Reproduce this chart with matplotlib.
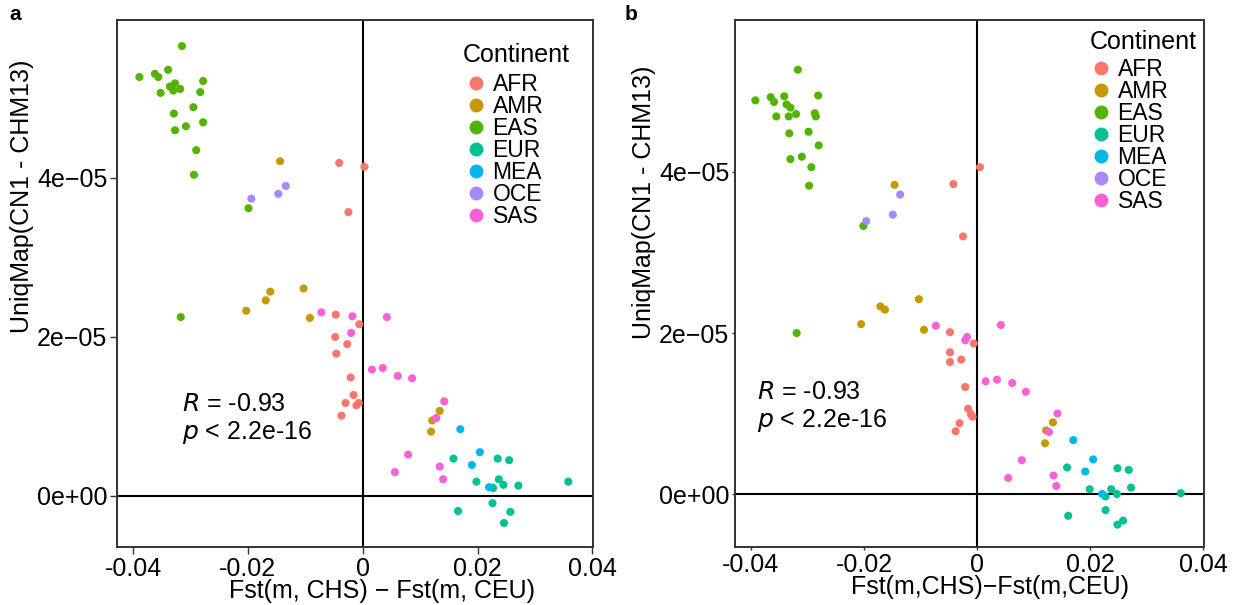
import numpy as np
import matplotlib
matplotlib.use("Agg")
import matplotlib.pyplot as plt
from matplotlib.lines import Line2D

plt.rcParams['font.family'] = ['Liberation Sans', 'DejaVu Sans']

continents = ["AFR", "AMR", "EAS", "EUR", "MEA", "OCE", "SAS"]
colors = ["#F8766D", "#C49A00", "#53B400", "#00C094", "#00B6EB", "#A58AFF", "#FB61D7"]

# panel a : (Fst diff, UniqMap in units of 1e-5)
afr_a = [(-0.0041, 4.19), (0.0003, 4.14), (-0.0025, 3.57), (-0.0047, 2.28), (-0.0006, 2.16),
         (-0.0048, 2.00), (-0.0027, 1.91), (-0.0046, 1.79), (-0.0021, 1.49), (-0.0016, 1.27),
         (-0.0030, 1.17), (-0.0007, 1.17), (-0.0011, 1.14), (-0.0037, 1.01)]
amr_a = [(-0.0144, 4.21), (-0.0203, 2.33), (-0.0169, 2.46), (-0.0161, 2.57), (-0.0103, 2.61),
         (-0.0092, 2.24), (0.0134, 1.07), (0.0121, 0.95), (0.0119, 0.81)]
eas_a = [(-0.0315, 5.66), (-0.0389, 5.27), (-0.0362, 5.31), (-0.0356, 5.27), (-0.0339, 5.36),
         (-0.0278, 5.22), (-0.0336, 5.15), (-0.0327, 5.19), (-0.0330, 5.10), (-0.0318, 5.12),
         (-0.0352, 5.07), (-0.0283, 5.08), (-0.0295, 4.89), (-0.0329, 4.81), (-0.0278, 4.70),
         (-0.0308, 4.65), (-0.0327, 4.60), (-0.0290, 4.35), (-0.0294, 4.04), (-0.0199, 3.62),
         (-0.0317, 2.25)]
eur_a = [(0.0158, 0.47), (0.0235, 0.47), (0.0255, 0.45), (0.0237, 0.21), (0.0198, 0.18),
         (0.0245, 0.14), (0.0271, 0.13), (0.0227, 0.10), (0.0358, 0.18), (0.0166, -0.19),
         (0.0226, -0.09), (0.0257, -0.20), (0.0246, -0.34)]
mea_a = [(0.0170, 0.84), (0.0204, 0.55), (0.0190, 0.39), (0.0220, 0.11)]
oce_a = [(-0.0194, 3.74), (-0.0147, 3.80), (-0.0134, 3.90)]
sas_a = [(-0.0072, 2.31), (-0.0018, 2.26), (-0.0020, 2.05), (0.0042, 2.25), (0.0016, 1.59),
         (0.0035, 1.61), (0.0061, 1.51), (0.0086, 1.48), (0.0142, 1.19), (0.0128, 0.98),
         (0.0079, 0.52), (0.0056, 0.30), (0.0134, 0.37), (0.0140, 0.21)]

# panel b
afr_b = [(-0.0042, 3.85), (0.0005, 4.06), (-0.0025, 3.20), (-0.0048, 2.01), (-0.0006, 1.87),
         (-0.0048, 1.76), (-0.0028, 1.67), (-0.0048, 1.64), (-0.0021, 1.33), (-0.0016, 1.06),
         (-0.0011, 0.99), (-0.0008, 0.96), (-0.0031, 0.88), (-0.0038, 0.78)]
amr_b = [(-0.0146, 3.84), (-0.0205, 2.11), (-0.0171, 2.33), (-0.0163, 2.29), (-0.0103, 2.42),
         (-0.0094, 2.04), (0.0134, 0.89), (0.0122, 0.79), (0.0120, 0.63)]
eas_b = [(-0.0317, 5.27), (-0.0392, 4.89), (-0.0365, 4.93), (-0.0359, 4.87), (-0.0341, 4.94),
         (-0.0281, 4.95), (-0.0337, 4.84), (-0.0330, 4.80), (-0.0320, 4.72), (-0.0333, 4.69),
         (-0.0355, 4.69), (-0.0287, 4.73), (-0.0285, 4.69), (-0.0298, 4.50), (-0.0332, 4.48),
         (-0.0280, 4.33), (-0.0310, 4.19), (-0.0330, 4.16), (-0.0293, 4.06), (-0.0297, 3.83),
         (-0.0201, 3.33), (-0.0319, 2.00)]
eur_b = [(0.0159, 0.33), (0.0248, 0.32), (0.0268, 0.30), (0.0272, 0.08), (0.0199, 0.06),
         (0.0237, 0.06), (0.0247, 0.00), (0.0227, -0.03), (0.0360, 0.01), (0.0161, -0.27),
         (0.0227, -0.20), (0.0258, -0.33), (0.0248, -0.38)]
mea_b = [(0.0170, 0.67), (0.0205, 0.43), (0.0191, 0.28), (0.0221, 0.00)]
oce_b = [(-0.0196, 3.39), (-0.0149, 3.47), (-0.0136, 3.72)]
sas_b = [(-0.0073, 2.09), (-0.0018, 1.95), (-0.0021, 1.91), (0.0042, 2.10), (0.0015, 1.40),
         (0.0035, 1.42), (0.0062, 1.38), (0.0086, 1.27), (0.0142, 1.00), (0.0127, 0.77),
         (0.0079, 0.42), (0.0055, 0.20), (0.0135, 0.23), (0.0140, 0.10)]

xticks = [-0.04, -0.02, 0, 0.02, 0.04]
xticklabels = ["-0.04", "-0.02", "0", "0.02", "0.04"]
yticks = [0, 2e-05, 4e-05]
yticklabels = ["0e+00", "2e\u221205", "4e\u221205"]
stat_r = "-0.93"
stat_p = "2.2e-16"

FS = 18


def draw_panel(ax, groups, xlabel, ylim, ticklen, xlab_x, ylab_y, title_pos, leg_anchor, stat_pos):
    for (pts, col) in zip(groups, colors):
        arr = np.array(pts)
        ax.scatter(arr[:, 0], arr[:, 1] * 1e-5, s=34, color=col, edgecolors='none', zorder=3)
    ax.axvline(0, color='black', lw=1.5, zorder=2)
    ax.axhline(0, color='black', lw=1.5, zorder=2)
    ax.set_xlim(-0.0428, 0.0401)
    ax.set_ylim(*ylim)
    ax.set_xticks(xticks)
    ax.set_xticklabels(xticklabels)
    ax.set_yticks(yticks)
    ax.set_yticklabels(yticklabels)
    ax.tick_params(labelsize=FS, length=ticklen, width=1.0, color='#333333', pad=2)
    for sp in ax.spines.values():
        sp.set_color('#333333')
        sp.set_linewidth(1.4)
    ax.set_xlabel(xlabel, fontsize=FS, labelpad=-1, x=xlab_x)
    ax.set_ylabel("UniqMap(CN1 - CHM13)", fontsize=FS, labelpad=2, y=ylab_y)
    ax.text(stat_pos[0], stat_pos[1], "$\\it{R}$ = " + stat_r + "\n$\\it{p}$ < " + stat_p,
            transform=ax.transAxes, fontsize=FS, va='top', ha='left', linespacing=1.15)
    # legend: title as its own text, then the keys
    ax.text(title_pos[0], title_pos[1], "Continent", transform=ax.transAxes,
            fontsize=FS, ha='left', va='center')
    handles = [Line2D([], [], marker='o', ls='none', markersize=10, color=c, markeredgewidth=0)
               for c in colors]
    leg = ax.legend(handles, continents, loc='upper left',
                    bbox_to_anchor=leg_anchor, frameon=False, fontsize=16.5,
                    labelspacing=-0.045, handletextpad=0.2,
                    handlelength=1.0, borderpad=0, borderaxespad=0)
    return leg


fig = plt.figure(figsize=(12.34, 6.05), dpi=100)
ax_a = fig.add_axes([117 / 1234, 58 / 605, 476 / 1234, 527 / 605])
ax_b = fig.add_axes([735 / 1234, 58 / 605, 469 / 1234, 527 / 605])

draw_panel(ax_a, [afr_a, amr_a, eas_a, eur_a, mea_a, oce_a, sas_a],
           "Fst(m, CHS) \u2212 Fst(m, CEU)", (-0.642e-5, 5.987e-5), 5, 0.557, 0.666,
           ((463 - 117) / 476, 1 - 35 / 527), ((465 - 117) / 476, 1 - 53 / 527),
           (65 / 476, 1 - 372 / 527))
ax_b.yaxis.set_tick_params(pad=0)
draw_panel(ax_b, [afr_b, amr_b, eas_b, eur_b, mea_b, oce_b, sas_b],
           "Fst(m,CHS)\u2212Fst(m,CEU)", (-0.658e-5, 5.888e-5), 2, 0.544, 0.655,
           ((1090 - 735) / 469, 1 - 22 / 527), ((1090 - 735) / 469, 1 - 38 / 527),
           (22 / 469, 1 - 360 / 527))

fig.text(9 / 1234, 1 - 14 / 605, "a", fontsize=15, fontweight='bold', va='center')
fig.text(625 / 1234, 1 - 14 / 605, "b", fontsize=15, fontweight='bold', va='center')

fig.savefig("out.png", dpi=100)
